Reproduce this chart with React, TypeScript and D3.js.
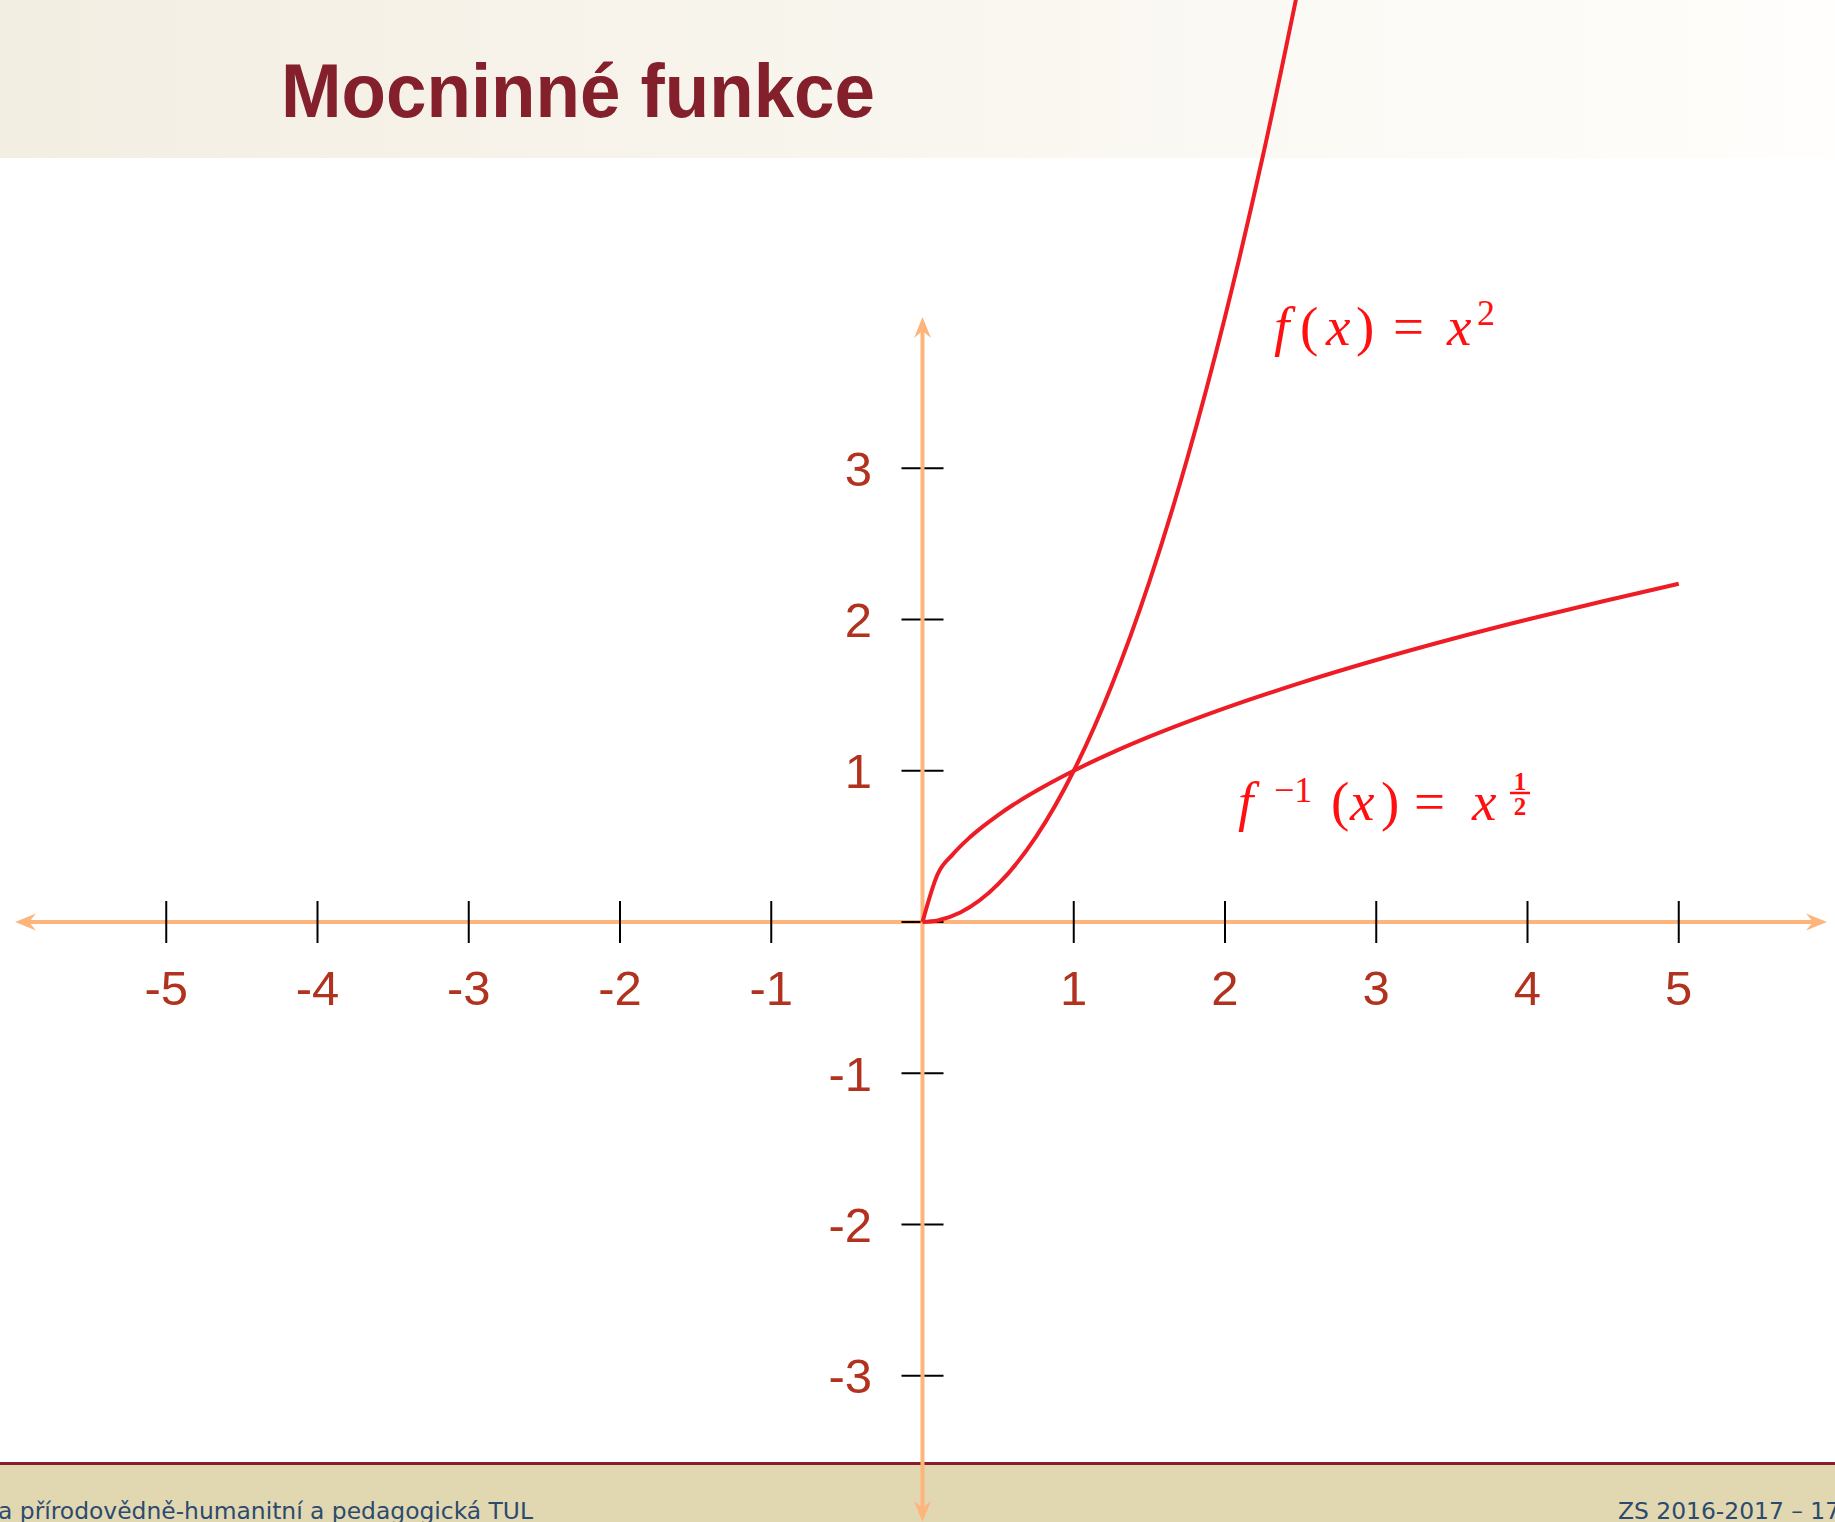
import React from "react";
import * as d3 from "d3";

const W = 1835;
const H = 1522;

// axis ticks
const xTicks = [-5, -4, -3, -2, -1, 1, 2, 3, 4, 5];
const yTicks = [-3, -2, -1, 0, 1, 2, 3];
const xTickLabels = ["-5", "-4", "-3", "-2", "-1", "1", "2", "3", "4", "5"];
const yTickLabels = ["-3", "-2", "-1", "", "1", "2", "3"];

// f(x) = x^2 sample values
const sqX = [0, 0.1, 0.25, 0.5, 0.75, 1, 1.25, 1.5, 1.75, 2, 2.25, 2.5];
const sqY = [0, 0.01, 0.0625, 0.25, 0.5625, 1, 1.5625, 2.25, 3.0625, 4, 5.0625, 6.25];

// f^-1(x) = x^(1/2) sample values
const rtX = [0, 0.1, 0.2, 0.3, 0.4, 0.5, 0.6, 0.8, 1, 1.25, 1.5, 2, 2.5, 3, 3.5, 4, 4.5, 5];
const rtY = [0, 0.316, 0.447, 0.548, 0.632, 0.707, 0.775, 0.894, 1, 1.118, 1.225, 1.414, 1.581, 1.732, 1.871, 2, 2.121, 2.236];

const AXIS = "#FDB57C";
const CURVE = "#EE1D25";
const LABEL = "#B0321F";
const MATH = "#FF0F0F";

export default function App() {
  const x = d3.scaleLinear().domain([-6, 6]).range([15, 1830]);
  const y = d3.scaleLinear().domain([-4, 4]).range([1527, 317]);
  const x0 = x(0);
  const y0 = y(0);

  const line = d3
    .line<[number, number]>()
    .x((d) => x(d[0]))
    .y((d) => y(d[1]))
    .curve(d3.curveMonotoneX);

  const sqData: [number, number][] = sqX.map((v, i) => [v, sqY[i]]);
  const rtData: [number, number][] = rtX.map((v, i) => [v, rtY[i]]);

  const arrow = (tx: number, ty: number, angle: number) => (
    <path
      d="M0,0 L-21,-8.5 L-14,0 L-21,8.5 Z"
      fill={AXIS}
      transform={`translate(${tx},${ty}) rotate(${angle})`}
    />
  );

  const serif = "'Liberation Serif', 'DejaVu Serif', serif";

  return (
    <svg
      width={W}
      height={H}
      style={{ position: "absolute", left: 0, top: 0, display: "block" }}
      xmlns="http://www.w3.org/2000/svg"
    >
      <defs>
        <linearGradient id="titleGrad" x1="0" x2="1" y1="0" y2="0">
          <stop offset="0" stopColor="#F3EEE2" />
          <stop offset="1" stopColor="#FFFEFC" />
        </linearGradient>
      </defs>
      <rect x={0} y={0} width={W} height={H} fill="#ffffff" />
      {/* title band */}
      <rect x={0} y={0} width={W} height={158} fill="url(#titleGrad)" />
      <text
        x={281}
        y={117}
        fontFamily="'Liberation Sans', Arial, sans-serif"
        fontWeight="bold"
        fontSize={76}
        fill="#84202B"
        textLength={594}
        lengthAdjust="spacingAndGlyphs"
      >
        Mocninné funkce
      </text>

      {/* footer band */}
      <rect x={0} y={1464} width={W} height={H - 1464} fill="#E1D8B1" />
      <line x1={0} x2={W} y1={1463.5} y2={1463.5} stroke="#8A1F2B" strokeWidth={3} />

      {/* x axis */}
      <line x1={x(-6) + 12} x2={x(6) - 12} y1={y0} y2={y0} stroke={AXIS} strokeWidth={4} />
      {arrow(x(-6), y0, 180)}
      {arrow(x(6) - 3, y0, 0)}
      {xTicks.map((t, i) => (
        <g key={"xt" + t}>
          <line x1={x(t)} x2={x(t)} y1={y0 - 21} y2={y0 + 21} stroke="#000" strokeWidth={2} />
          <text
            x={x(t)}
            y={1005}
            textAnchor="middle"
            fontFamily="'Liberation Sans', Arial, sans-serif"
            fontSize={49}
            fill={LABEL}
          >
            {xTickLabels[i]}
          </text>
        </g>
      ))}

      {/* y ticks */}
      {yTicks.map((t, i) => (
        <g key={"yt" + t}>
          <line x1={x0 - 21} x2={x0 + 21} y1={y(t)} y2={y(t)} stroke="#000" strokeWidth={2} />
          <text
            x={872}
            y={y(t)}
            dy="0.36em"
            textAnchor="end"
            fontFamily="'Liberation Sans', Arial, sans-serif"
            fontSize={49}
            fill={LABEL}
          >
            {yTickLabels[i]}
          </text>
        </g>
      ))}

      {/* y axis */}
      <line x1={x0} x2={x0} y1={y(4) + 12} y2={y(-4) - 12} stroke={AXIS} strokeWidth={4} />
      {arrow(x0, y(4), -90)}
      {arrow(x0, y(-4) - 5, 90)}

      {/* curves */}
      <path d={line(sqData) || ""} fill="none" stroke={CURVE} strokeWidth={4} strokeLinejoin="round" />
      <path d={line(rtData) || ""} fill="none" stroke={CURVE} strokeWidth={4} strokeLinejoin="round" />

      {/* label f(x) = x^2 */}
      <g fill={MATH} fontFamily={serif} fontSize={55}>
        <text x={1274} y={345} fontStyle="italic">f</text>
        <text x={1300} y={345}>(</text>
        <text x={1326} y={345} fontStyle="italic">x</text>
        <text x={1356} y={345}>)</text>
        <text x={1393} y={345}>=</text>
        <text x={1447} y={345} fontStyle="italic">x</text>
        <text x={1477} y={325} fontSize={36}>2</text>
      </g>

      {/* label f^-1(x) = x^(1/2) */}
      <g fill={MATH} fontFamily={serif} fontSize={55}>
        <text x={1238} y={820} fontStyle="italic">f</text>
        <text x={1274} y={802} fontSize={36}>−1</text>
        <text x={1331} y={820}>(</text>
        <text x={1350} y={820} fontStyle="italic">x</text>
        <text x={1381} y={820}>)</text>
        <text x={1414} y={820}>=</text>
        <text x={1472} y={820} fontStyle="italic">x</text>
        <text x={1520} y={790} fontSize={25} textAnchor="middle" fontWeight="bold">1</text>
        <line x1={1510} x2={1530} y1={793} y2={793} stroke={MATH} strokeWidth={2.5} />
        <text x={1520} y={815} fontSize={25} textAnchor="middle" fontWeight="bold">2</text>
      </g>

      {/* footer texts */}
      <text
        x={533}
        y={1519}
        textAnchor="end"
        fontFamily="'DejaVu Sans', 'Liberation Sans', sans-serif"
        fontSize={23.4}
        fill="#2C4A6E"
      >
        Fakulta přírodovědně-humanitní a pedagogická TUL
      </text>
      <text
        x={1618}
        y={1519}
        fontFamily="'DejaVu Sans', 'Liberation Sans', sans-serif"
        fontSize={23.4}
        fill="#2C4A6E"
      >
        ZS 2016-2017 – 17
      </text>
    </svg>
  );
}
